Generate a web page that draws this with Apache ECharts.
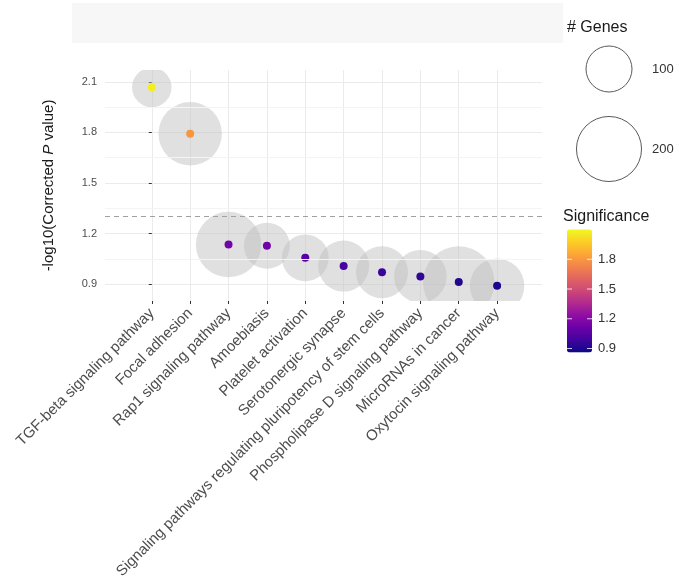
<!DOCTYPE html>
<html>
<head>
<meta charset="utf-8">
<script src="https://cdn.jsdelivr.net/npm/echarts@6/dist/echarts.min.js"></script>
<style>
  html, body { margin: 0; padding: 0; background: #ffffff; }
  #chart { width: 682px; height: 585px; }
</style>
</head>
<body>
<div id="chart"></div>
<script>
// KEGG pathway enrichment: significance and pathway gene counts
const pathways = [
  'TGF-beta signaling pathway',
  'Focal adhesion',
  'Rap1 signaling pathway',
  'Amoebiasis',
  'Platelet activation',
  'Serotonergic synapse',
  'Signaling pathways regulating pluripotency of stem cells',
  'Phospholipase D signaling pathway',
  'MicroRNAs in cancer',
  'Oxytocin signaling pathway'
];
const significance = [2.067, 1.792, 1.135, 1.127, 1.056, 1.007, 0.971, 0.946, 0.912, 0.890];
const geneCounts = [74, 190, 202, 100, 104, 123, 128, 131, 242, 140];

const yTicks = [0.9, 1.2, 1.5, 1.8, 2.1];
const yMinorTicks = [1.05, 1.35, 1.65, 1.95];
const geneLegendValues = [100, 200];
const colorbarTicks = [0.9, 1.2, 1.5, 1.8];
const pThreshold = 0.05;

// plasma palette
const plasma = ['#0d0887', '#41049d', '#6a00a8', '#8f0da4', '#b12a90', '#cc4778',
                '#e16462', '#f2844b', '#fca636', '#fcce25', '#f0f921'];

const FONT = "'Liberation Sans', Arial, Helvetica, sans-serif";
const BUBBLE_FILL = 'rgba(190,190,190,0.48)';
const radiusFor = n => 2.3 * Math.sqrt(n);
const xIndex = pathways.map((_, i) => i);

const bubbleData = pathways.map((_, i) => [i, significance[i], geneCounts[i]]);
const dotData = pathways.map((_, i) => [i, significance[i]]);

// colour bar geometry
const CB = { left: 567, top: 229.5, width: 25, height: 123, min: 0.86, max: 2.1 };
const cbY = v => CB.top + CB.height * (1 - (v - CB.min) / (CB.max - CB.min));

const graphics = [
  // empty strip above the panel
  { type: 'rect', shape: { x: 72, y: 3, width: 491, height: 40 },
    style: { fill: '#f7f7f7' }, silent: true, z: -1 },
  // legend titles
  { type: 'text', left: 567, top: 20,
    style: { text: '# Genes', font: '16px ' + FONT, fill: '#1a1a1a' } },
  { type: 'text', left: 563, top: 209,
    style: { text: 'Significance', font: '16px ' + FONT, fill: '#1a1a1a' } }
];

// size legend keys
const legendCentres = [69, 149];
geneLegendValues.forEach((v, k) => {
  graphics.push({
    type: 'circle',
    shape: { cx: 609, cy: legendCentres[k], r: radiusFor(v) },
    style: { fill: '#ffffff', stroke: '#5a5a5a', lineWidth: 1 }
  });
  graphics.push({
    type: 'text', x: 652, y: legendCentres[k],
    style: { text: String(v), font: '13px ' + FONT, fill: '#333333',
             textVerticalAlign: 'middle', verticalAlign: 'middle' }
  });
});

// colour bar ticks and labels
colorbarTicks.forEach(v => {
  const y = cbY(v);
  graphics.push({
    type: 'line', shape: { x1: CB.left, y1: y, x2: CB.left + 5, y2: y },
    style: { stroke: '#ffffff', lineWidth: 1, opacity: 0.8 }, z: 200
  });
  graphics.push({
    type: 'line', shape: { x1: CB.left + CB.width - 5, y1: y, x2: CB.left + CB.width, y2: y },
    style: { stroke: '#ffffff', lineWidth: 1, opacity: 0.8 }, z: 200
  });
  graphics.push({
    type: 'text', x: 598, y: y,
    style: { text: v.toFixed(1), font: '13px ' + FONT, fill: '#333333',
             verticalAlign: 'middle', textVerticalAlign: 'middle' }
  });
});

const chart = echarts.init(document.getElementById('chart'), null, { renderer: 'canvas' });

chart.setOption({
  animation: false,
  backgroundColor: '#ffffff',
  textStyle: { fontFamily: FONT },
  grid: { left: 105, right: 140, top: 70, bottom: 284 },
  xAxis: {
    type: 'value',
    min: -1.22,
    max: 10.17,
    axisLine: { show: false },
    axisTick: { show: true, customValues: xIndex, length: 3,
                lineStyle: { color: '#333333', width: 1 } },
    axisLabel: {
      customValues: xIndex,
      formatter: v => pathways[Math.round(v)],
      rotate: 45,
      margin: 10,
      fontSize: 15,
      color: '#4d4d4d',
      fontFamily: FONT
    },
    splitLine: { show: true, lineStyle: { color: '#ebebeb', width: 1 } }
  },
  yAxis: {
    type: 'value',
    min: 0.8,
    max: 2.17,
    name: '-log10(Corrected {i|P} value)',
    nameLocation: 'middle',
    nameGap: 49,
    nameTextStyle: {
      fontSize: 15, color: '#1a1a1a', fontFamily: FONT,
      rich: { i: { fontStyle: 'italic', fontSize: 15, color: '#1a1a1a', fontFamily: FONT } }
    },
    axisLine: { show: false },
    axisTick: { show: true, customValues: yTicks, length: 3,
                lineStyle: { color: '#333333', width: 1 } },
    axisLabel: {
      customValues: yTicks,
      formatter: v => v.toFixed(1),
      margin: 8,
      fontSize: 11,
      color: '#4d4d4d',
      fontFamily: FONT
    },
    splitLine: { show: true, lineStyle: { color: '#ebebeb', width: 1 } }
  },
  visualMap: {
    type: 'continuous',
    seriesIndex: 2,
    dimension: 1,
    min: CB.min,
    max: CB.max,
    calculable: false,
    hoverLink: false,
    left: CB.left,
    top: CB.top,
    padding: 0,
    itemWidth: CB.width,
    itemHeight: CB.height,
    inRange: { color: plasma }
  },
  graphic: graphics,
  series: [
    {
      // minor gridlines
      type: 'line',
      data: [],
      z: 1,
      silent: true,
      markLine: {
        silent: true,
        symbol: 'none',
        label: { show: false },
        lineStyle: { color: '#f4f4f4', width: 1, type: 'solid' },
        data: yMinorTicks.map(v => ({ yAxis: v }))
      }
    },
    {
      // gene-count bubbles, clipped to the panel
      type: 'custom',
      z: 2,
      clip: true,
      silent: true,
      data: bubbleData,
      encode: { x: 0, y: 1 },
      renderItem: (params, api) => {
        const c = api.coord([api.value(0), api.value(1)]);
        return {
          type: 'circle',
          shape: { cx: c[0], cy: c[1], r: radiusFor(api.value(2)) },
          style: { fill: BUBBLE_FILL }
        };
      }
    },
    {
      // significance dots
      type: 'scatter',
      z: 4,
      data: dotData,
      symbolSize: 8,
      itemStyle: { opacity: 1 },
      silent: true
    },
    {
      // significance threshold
      type: 'line',
      data: [],
      z: 3,
      silent: true,
      markLine: {
        silent: true,
        symbol: 'none',
        label: { show: false },
        lineStyle: { color: '#a0a0a0', width: 1, type: [5, 4] },
        data: [{ yAxis: -Math.log10(pThreshold) }]
      }
    }
  ]
});
</script>
</body>
</html>
